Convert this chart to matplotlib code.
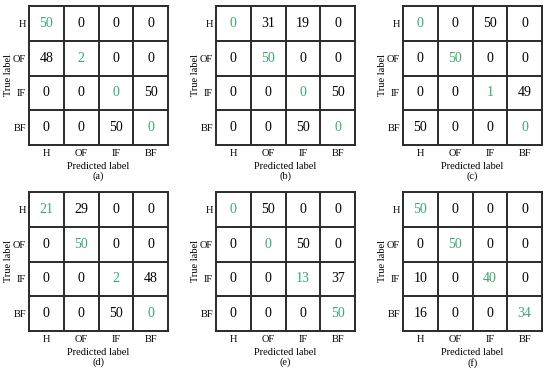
import numpy as np
import matplotlib
matplotlib.use('Agg')
import matplotlib.pyplot as plt

plt.rcParams['font.family'] = ['Liberation Serif', 'DejaVu Serif']

classes = ["H", "OF", "IF", "BF"]
panel_labels = ["(a)", "(b)", "(c)", "(d)", "(e)", "(f)"]

cm_a = [[50, 0, 0, 0], [48, 2, 0, 0], [0, 0, 0, 50], [0, 0, 50, 0]]
cm_b = [[0, 31, 19, 0], [0, 50, 0, 0], [0, 0, 0, 50], [0, 0, 50, 0]]
cm_c = [[0, 0, 50, 0], [0, 50, 0, 0], [0, 0, 1, 49], [50, 0, 0, 0]]
cm_d = [[21, 29, 0, 0], [0, 50, 0, 0], [0, 0, 2, 48], [0, 0, 50, 0]]
cm_e = [[0, 50, 0, 0], [0, 0, 50, 0], [0, 0, 13, 37], [0, 0, 0, 50]]
cm_f = [[50, 0, 0, 0], [0, 50, 0, 0], [10, 0, 40, 0], [16, 0, 0, 34]]
matrices = [cm_a, cm_b, cm_c, cm_d, cm_e, cm_f]

green = '#3aa86a'
W, H = 550, 374

fig = plt.figure(figsize=(5.5, 3.74), dpi=100)

lefts = [29, 216, 403]
tops = [6, 192]
size = 139

for k, cm in enumerate(matrices):
    r, c = divmod(k, 3)
    x0 = lefts[c] / W
    y0 = (H - tops[r] - size) / H
    ax = fig.add_axes([x0, y0, size / W, size / H])
    cm = np.array(cm)
    n = len(classes)
    ax.set_xlim(-0.5, n - 0.5)
    ax.set_ylim(n - 0.5, -0.5)
    for b in np.arange(0.5, n - 0.5, 1):
        ax.axhline(b, color='#2a2a2a', lw=1.4)
        ax.axvline(b, color='#2a2a2a', lw=1.4)
    for s in ax.spines.values():
        s.set_linewidth(1.4)
        s.set_color('#2a2a2a')
    for i in range(n):
        for j in range(n):
            ax.text(j, i, str(cm[i, j]), ha='center', va='center', fontsize=10,
                    color=green if i == j else 'black')
    ax.set_xticks(range(n))
    ax.set_yticks(range(n))
    ax.set_xticklabels(classes, fontsize=7.5)
    ax.set_yticklabels(classes, fontsize=7.5)
    ax.tick_params(length=0, pad=3)
    ax.tick_params(axis='y', pad=2)
    ax.set_xlabel('Predicted label\n' + panel_labels[k], fontsize=7.5, labelpad=3,
                  linespacing=1.05)
    ax.set_ylabel('True label', fontsize=7.5, labelpad=0)

fig.savefig('out.png', dpi=100)
